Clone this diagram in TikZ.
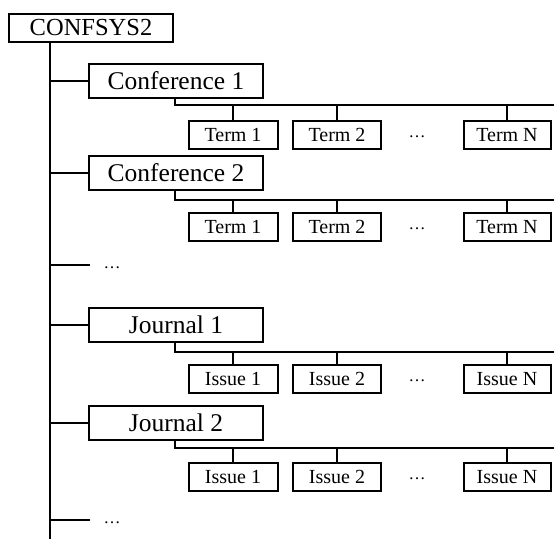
\documentclass[tikz,border=0pt]{standalone}
\usepackage{fontspec}
\setmainfont{Liberation Serif}
\begin{document}
\begin{tikzpicture}[x=1pt,y=-1pt,
  line width=2pt,
  rootbox/.style={draw,minimum width=164pt,minimum height=28pt,inner sep=0pt,font=\fontsize{24.5}{26}\selectfont},
  midbox/.style={draw,minimum width=174pt,minimum height=34pt,inner sep=0pt,font=\fontsize{25.5}{27}\selectfont},
  leafbox/.style={draw,minimum height=28pt,inner sep=0pt,font=\fontsize{20}{22}\selectfont},
  dotstext/.style={inner sep=0pt,font=\fontsize{17}{19}\selectfont}]
\useasboundingbox (0,0) rectangle (554,539);
% root
\node[rootbox] (root) at (91,28) {CONFSYS2};
\coordinate (trunkend) at (50,539);
\draw (root.south -| trunkend) -- (trunkend);
% second level
\node[midbox] (c1) at (176,81) {Conference 1};
\node[midbox] (c2) at (176,173) {Conference 2};
\node[dotstext] (d1) at (112,268) {\dots};
\node[midbox] (j1) at (176,325) {Journal 1};
\node[midbox] (j2) at (176,423) {Journal 2};
\node[dotstext] (d2) at (112,523) {\dots};
\coordinate (d1end) at (90,265);
\coordinate (d2end) at (90,520);
\foreach \n in {c1,c2,j1,j2} {
  \draw (trunkend |- \n.west) -- (\n.west);
}
\draw (trunkend |- d1end) -- (d1end);
\draw (trunkend |- d2end) -- (d2end);
% leaf rows
\foreach \p/\y/\cy/\a/\b/\c [count=\i] in {c1/105/135/Term 1/Term 2/Term N, c2/200/227/Term 1/Term 2/Term N, j1/352/379/Issue 1/Issue 2/Issue N, j2/448/477/Issue 1/Issue 2/Issue N} {
  \coordinate (bus\i) at (175,\y);
  \coordinate (busend\i) at (554,\y);
  \node[leafbox,minimum width=89pt] (l\i a) at (233,\cy) {\a};
  \node[leafbox,minimum width=88pt] (l\i b) at (337,\cy) {\b};
  \node[dotstext] (l\i d) at (417,\cy+2) {\dots};
  \node[leafbox,minimum width=87pt] (l\i n) at (507,\cy) {\c};
  \draw (bus\i |- \p.south) -- (bus\i) -- (busend\i);
  \draw (l\i a.north |- bus\i) -- (l\i a.north);
  \draw (l\i b.north |- bus\i) -- (l\i b.north);
  \draw (l\i n.north |- bus\i) -- (l\i n.north);
}
\end{tikzpicture}
\end{document}
